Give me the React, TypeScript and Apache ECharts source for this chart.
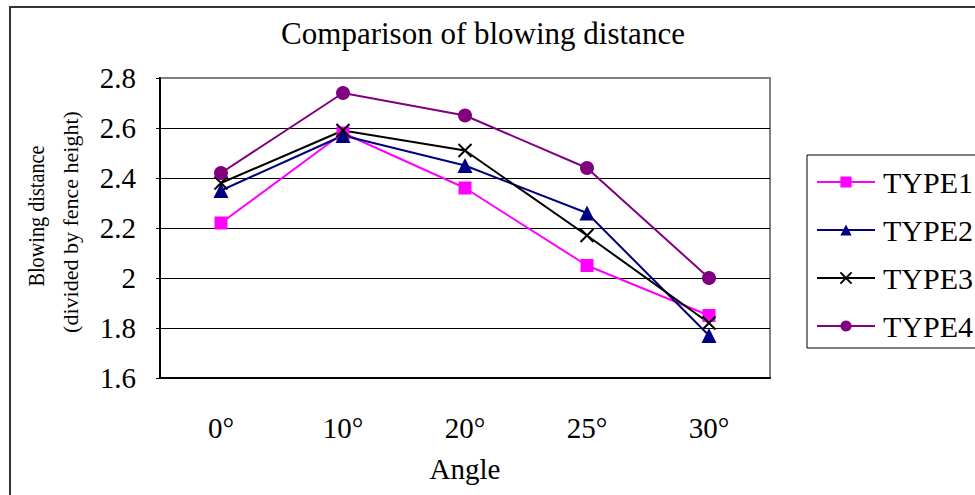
import React, { useEffect, useRef } from "react";
import * as echarts from "echarts";

const categories = ["0°", "10°", "20°", "25°", "30°"];
const type1 = [2.22, 2.58, 2.36, 2.05, 1.85];
const type2 = [2.35, 2.57, 2.45, 2.26, 1.77];
const type3 = [2.38, 2.59, 2.51, 2.17, 1.82];
const type4 = [2.42, 2.74, 2.65, 2.44, 2.0];
const seriesNames = ["TYPE1", "TYPE2", "TYPE3", "TYPE4"];
const yNameLine1 = "Blowing distance";
const yNameLine2 = "(divided by fence height)";

const FONT = '"Liberation Serif", "Times New Roman", serif';

export default function App() {
  const ref = useRef<HTMLDivElement>(null);
  useEffect(() => {
    if (!ref.current) return;
    const chart = echarts.init(ref.current, null, { renderer: "svg" });
    const crossPath = "path://M0,0L10,10M10,0L0,10";
    chart.setOption({
      animation: false,
      backgroundColor: "#fff",
      textStyle: { fontFamily: FONT, color: "#000" },
      title: {
        text: "Comparison of blowing distance",
        left: 478,
        top: 13,
        textAlign: "center",
        textStyle: { fontFamily: FONT, fontSize: 31, fontWeight: "normal", color: "#000" },
      },
      graphic: [
        {
          type: "rect",
          shape: { x: 10, y: 7, width: 1000, height: 520 },
          style: { fill: "none", stroke: "#333", lineWidth: 2 },
          silent: true,
          z: 0,
        },
        {
          type: "text",
          x: 37,
          y: 216,
          rotation: Math.PI / 2,
          scaleX: 0.88,
          style: {
            text: yNameLine1,
            font: `23px ${FONT}`,
            fill: "#000",
            align: "center",
            verticalAlign: "middle",
          },
          silent: true,
        },
        {
          type: "text",
          x: 70,
          y: 222,
          rotation: Math.PI / 2,
          style: {
            text: yNameLine2,
            font: `22px ${FONT}`,
            fill: "#000",
            align: "center",
            verticalAlign: "middle",
          },
          silent: true,
        },
      ],
      legend: {
        orient: "vertical",
        left: 807,
        top: 155,
        data: seriesNames,
        backgroundColor: "#fff",
        borderColor: "#000",
        borderWidth: 1,
        padding: [12, 30, 7, 9],
        itemWidth: 58,
        itemHeight: 14,
        itemGap: 18,
        textStyle: { fontFamily: FONT, fontSize: 30, lineHeight: 30, color: "#000", padding: [0, 0, 0, 3] },
      },
      grid: {
        left: 160,
        right: 205,
        top: 78,
        bottom: 117,
        show: true,
        borderColor: "#808080",
        borderWidth: 2,
        backgroundColor: "#fff",
      },
      xAxis: {
        type: "category",
        data: categories,
        boundaryGap: true,
        name: "Angle",
        nameLocation: "middle",
        nameGap: 76,
        nameTextStyle: { fontFamily: FONT, fontSize: 29, color: "#000" },
        axisLine: { lineStyle: { color: "#000", width: 2 } },
        axisTick: { inside: true, length: 10, lineStyle: { color: "#000", width: 1 } },
        axisLabel: { fontFamily: FONT, fontSize: 29, color: "#000", margin: 35 },
        splitLine: { show: false },
      },
      yAxis: {
        type: "value",
        min: 1.6,
        max: 2.8,
        interval: 0.2,
        axisLine: { show: true, lineStyle: { color: "#000", width: 2 } },
        axisTick: { show: true, length: 4, lineStyle: { color: "#000" } },
        axisLabel: {
          fontFamily: FONT,
          fontSize: 29,
          color: "#000",
          margin: 24,
          formatter: (v: number) => String(Math.round(v * 10) / 10),
        },
        splitLine: {
          show: true,
          lineStyle: {
            color: ["#000", "#000", "#000", "#000", "#000", "#000", "#808080"],
            width: 1,
          },
        },
      },
      series: [
        {
          name: "TYPE1",
          type: "line",
          data: type1,
          symbol: "rect",
          symbolSize: 13,
          lineStyle: { color: "#FF00FF", width: 2 },
          itemStyle: { color: "#FF00FF" },
        },
        {
          name: "TYPE2",
          type: "line",
          data: type2,
          symbol: "triangle",
          symbolSize: 15,
          lineStyle: { color: "#000080", width: 2 },
          itemStyle: { color: "#000080" },
        },
        {
          name: "TYPE3",
          type: "line",
          data: type3,
          symbol: crossPath,
          symbolSize: 13,
          lineStyle: { color: "#000", width: 2 },
          itemStyle: { color: "rgba(0,0,0,0)", borderColor: "#000", borderWidth: 2 },
        },
        {
          name: "TYPE4",
          type: "line",
          data: type4,
          symbol: "circle",
          symbolSize: 14,
          lineStyle: { color: "#800080", width: 2 },
          itemStyle: { color: "#800080" },
        },
      ],
    });
    return () => chart.dispose();
  }, []);
  return (
    <div
      ref={ref}
      style={{ position: "fixed", left: 0, top: 0, width: 975, height: 495 }}
    />
  );
}
